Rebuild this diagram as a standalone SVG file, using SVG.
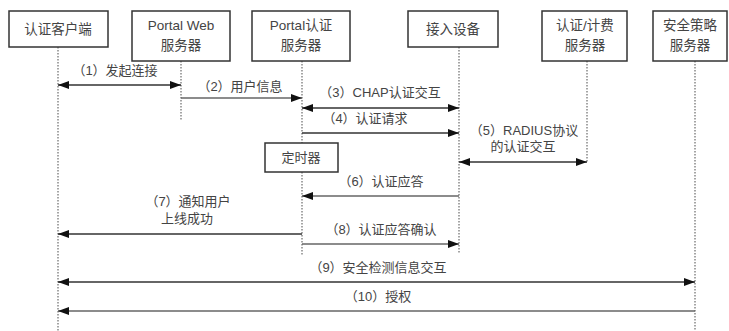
<svg xmlns="http://www.w3.org/2000/svg" width="729" height="331" viewBox="0 0 729 331">
<defs>
<marker id="ah" markerUnits="userSpaceOnUse" markerWidth="12" markerHeight="10" refX="11" refY="4" orient="auto-start-reverse">
<path d="M0,0 L11,4 L0,8 Z" fill="#111"/>
</marker>
</defs>
<style>
.box{fill:#fff;stroke:#333;stroke-width:1.5}
.life{stroke:#888;stroke-width:1.5;stroke-dasharray:1.5 1.5;fill:none}
.msg{stroke:#333;stroke-width:1.5;fill:none}
.g{stroke:#666}
text{font-family:"Liberation Sans","Noto Sans CJK SC",sans-serif;font-size:13px;fill:#444;text-anchor:middle}
.h{font-size:13.5px}
</style>
<rect width="729" height="331" fill="#fff"/>
<g id="lifelines">
<line class="life" x1="58" y1="47" x2="58" y2="331"/>
<line class="life" x1="181" y1="61" x2="181" y2="121"/>
<line class="life" x1="302" y1="61" x2="302" y2="256"/>
<line class="life" x1="459" y1="47" x2="459" y2="253"/>
<line class="life" x1="587" y1="61" x2="587" y2="163"/>
<line class="life" x1="695" y1="61" x2="695" y2="331"/>
</g>
<g id="n1"><rect class="box" x="9" y="11" width="99" height="36"/><text class="h" x="58" y="34">认证客户端</text></g>
<g id="n2"><rect class="box" x="132" y="11" width="98" height="50"/><text class="h" x="181" y="30">Portal Web</text><text class="h" x="181" y="50">服务器</text></g>
<g id="n3"><rect class="box" x="252" y="11" width="98" height="50"/><text class="h" x="301" y="30">Portal认证</text><text class="h" x="301" y="50">服务器</text></g>
<g id="n4"><rect class="box" x="408" y="11" width="90" height="36"/><text class="h" x="453" y="34">接入设备</text></g>
<g id="n5"><rect class="box" x="542" y="11" width="85" height="50"/><text class="h" x="585" y="30">认证/计费</text><text class="h" x="585" y="50">服务器</text></g>
<g id="n6"><rect class="box" x="653" y="11" width="74" height="50"/><text class="h" x="690" y="30">安全策略</text><text class="h" x="690" y="50">服务器</text></g>
<g id="timer"><rect class="box" x="265" y="143" width="73" height="29"/><text x="301" y="162">定时器</text></g>
<g id="connectors">
<line class="msg" x1="58" y1="85" x2="181" y2="85" marker-start="url(#ah)" marker-end="url(#ah)"/>
<line class="msg g" x1="181" y1="98" x2="302" y2="98" marker-end="url(#ah)"/>
<line class="msg" x1="302" y1="108" x2="459" y2="108" marker-start="url(#ah)" marker-end="url(#ah)"/>
<line class="msg" x1="302" y1="133" x2="459" y2="133" marker-end="url(#ah)"/>
<line class="msg" x1="459" y1="162" x2="587" y2="162" marker-start="url(#ah)" marker-end="url(#ah)"/>
<line class="msg g" x1="459" y1="196" x2="302" y2="196" marker-end="url(#ah)"/>
<line class="msg" x1="302" y1="234" x2="58" y2="234" marker-end="url(#ah)"/>
<line class="msg g" x1="302" y1="244" x2="459" y2="244" marker-end="url(#ah)"/>
<line class="msg" x1="58" y1="282" x2="695" y2="282" marker-start="url(#ah)" marker-end="url(#ah)"/>
<line class="msg g" x1="695" y1="311" x2="58" y2="311" marker-end="url(#ah)"/>
</g>
<g id="labels">
<text x="115" y="75">（1）发起连接</text>
<text x="240" y="91">（2）用户信息</text>
<text x="380" y="97">（3）CHAP认证交互</text>
<text x="365" y="123">（4）认证请求</text>
<text x="524" y="135">（5）RADIUS协议</text>
<text x="523" y="151">的认证交互</text>
<text x="381" y="186">（6）认证应答</text>
<text x="188" y="206">（7）通知用户</text>
<text x="187" y="223">上线成功</text>
<text x="381" y="234">（8）认证应答确认</text>
<text x="378" y="272">（9）安全检测信息交互</text>
<text x="378" y="301">（10）授权</text>
</g>
</svg>
